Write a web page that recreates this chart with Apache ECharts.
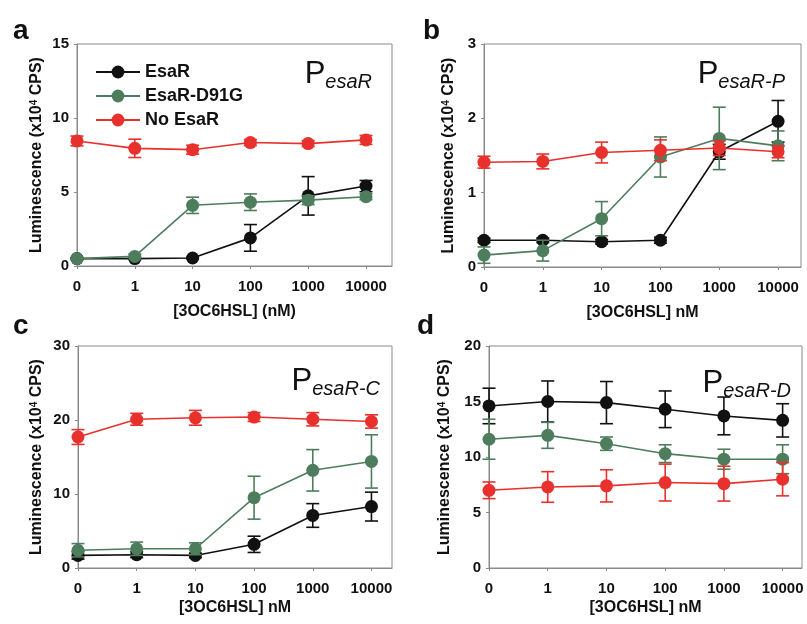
<!DOCTYPE html>
<html>
<head>
<meta charset="utf-8">
<script src="https://cdn.jsdelivr.net/npm/echarts@6/dist/echarts.min.js"></script>
<style>
  html, body { margin: 0; padding: 0; background: #fff; }
  #chart { width: 807px; height: 624px; }
</style>
</head>
<body>
<div id="chart"></div>
<script>
// dose categories (nM), plotted at evenly spaced positions 0..5
var doses = ['0', '1', '10', '100', '1000', '10000'];
var names = ['EsaR', 'EsaR-D91G', 'No EsaR'];
var colors = ['#111111', '#4d7d5c', '#e8302c'];

// panel a : PesaR
var aEsaR = [0.5, 0.5, 0.54, 1.9, 4.74, 5.4];
var aEsaRErr = [0.05, 0.05, 0.05, 0.9, 1.3, 0.38];
var aD91G = [0.5, 0.65, 4.1, 4.31, 4.45, 4.68];
var aD91GErr = [0.1, 0.15, 0.55, 0.56, 0.3, 0.2];
var aNo = [8.45, 7.95, 7.86, 8.34, 8.27, 8.52];
var aNoErr = [0.33, 0.62, 0.3, 0.2, 0.2, 0.3];

// panel b : PesaR-P
var bEsaR = [0.36, 0.36, 0.34, 0.36, 1.55, 1.96];
var bEsaRErr = [0.03, 0.03, 0.03, 0.04, 0.1, 0.28];
var bD91G = [0.16, 0.22, 0.65, 1.48, 1.73, 1.63];
var bD91GErr = [0.11, 0.14, 0.23, 0.27, 0.42, 0.2];
var bNo = [1.41, 1.42, 1.54, 1.57, 1.6, 1.55];
var bNoErr = [0.08, 0.1, 0.14, 0.14, 0.1, 0.08];

// panel c : PesaR-C
var cEsaR = [1.7, 1.8, 1.7, 3.2, 7.1, 8.3];
var cEsaRErr = [0.5, 0.4, 0.3, 1.1, 1.6, 1.95];
var cD91G = [2.4, 2.6, 2.6, 9.5, 13.2, 14.4];
var cD91GErr = [0.9, 0.9, 0.8, 2.9, 2.8, 3.6];
var cNo = [17.7, 20.1, 20.3, 20.4, 20.1, 19.8];
var cNoErr = [1.0, 0.8, 1.0, 0.6, 0.9, 0.9];

// panel d : PesaR-D
var dEsaR = [14.6, 15.0, 14.9, 14.3, 13.7, 13.3];
var dEsaRErr = [1.6, 1.85, 1.9, 1.65, 1.7, 1.5];
var dD91G = [11.6, 11.95, 11.2, 10.3, 9.8, 9.8];
var dD91GErr = [1.8, 1.17, 0.6, 0.8, 0.9, 1.3];
var dNo = [7.0, 7.3, 7.4, 7.7, 7.6, 8.0];
var dNoErr = [0.75, 1.38, 1.45, 1.66, 1.57, 1.5];

var FONT = 'Liberation Sans, Arial, sans-serif';

var panels = [
  {vals: [aEsaR, aD91G, aNo], errs: [aEsaRErr, aD91GErr, aNoErr], ymax: 15, step: 5,
   grid: {left: 77, top: 44, width: 315, height: 222}, xmax: 5.45,
   xname: '[3OC6HSL] (nM)', xgap: 38, ygap: 32,
   letter: 'a', lx: 13, ly: 17, sub: 'esaR', tx: 372, ty: 92},
  {vals: [bEsaR, bD91G, bNo], errs: [bEsaRErr, bD91GErr, bNoErr], ymax: 3, step: 1,
   grid: {left: 484, top: 44, width: 317, height: 223}, xmax: 5.39,
   xname: '[3OC6HSL] nM', xgap: 38, ygap: 27,
   letter: 'b', lx: 423, ly: 17, sub: 'esaR-P', tx: 785, ty: 92},
  {vals: [cEsaR, cD91G, cNo], errs: [cEsaRErr, cD91GErr, cNoErr], ymax: 30, step: 10,
   grid: {left: 78, top: 346, width: 314, height: 222}, xmax: 5.35,
   xname: '[3OC6HSL] nM', xgap: 32, ygap: 33,
   letter: 'c', lx: 13, ly: 312, sub: 'esaR-C', tx: 380, ty: 399},
  {vals: [dEsaR, dD91G, dNo], errs: [dEsaRErr, dD91GErr, dNoErr], ymax: 20, step: 5,
   grid: {left: 489, top: 346, width: 313, height: 222}, xmax: 5.33,
   xname: '[3OC6HSL] nM', xgap: 32, ygap: 36,
   letter: 'd', lx: 417, ly: 312, sub: 'esaR-D', tx: 791, ty: 401}
];

function errRender(params, api) {
  var x = api.value(0), v = api.value(1), e = api.value(2);
  var hi = api.coord([x, v + e]);
  var lo = api.coord([x, v - e]);
  var w = 6.5;
  var st = {stroke: api.visual('color'), lineWidth: 1.6};
  return {
    type: 'group',
    children: [
      {type: 'line', shape: {x1: hi[0], y1: hi[1], x2: lo[0], y2: lo[1]}, style: st},
      {type: 'line', shape: {x1: hi[0] - w, y1: hi[1], x2: hi[0] + w, y2: hi[1]}, style: st},
      {type: 'line', shape: {x1: lo[0] - w, y1: lo[1], x2: lo[0] + w, y2: lo[1]}, style: st}
    ]
  };
}

var axisGray = '#8a8a8a';
var grids = [], xAxes = [], yAxes = [], series = [], graphics = [];

panels.forEach(function (p, gi) {
  grids.push({left: p.grid.left, top: p.grid.top, width: p.grid.width, height: p.grid.height,
    show: true, borderColor: axisGray, borderWidth: 1, backgroundColor: 'transparent'});

  xAxes.push({
    type: 'value', gridIndex: gi, min: 0, max: p.xmax, interval: 1,
    name: p.xname, nameLocation: 'middle', nameGap: p.xgap,
    nameTextStyle: {fontSize: 16, fontWeight: 'bold', color: '#111', fontFamily: FONT},
    axisLine: {show: true, lineStyle: {color: axisGray, width: 1}},
    axisTick: {show: true, length: 3, lineStyle: {color: axisGray}, customValues: [0, 1, 2, 3, 4, 5]},
    axisLabel: {
      customValues: [0, 1, 2, 3, 4, 5],
      formatter: function (v) { return doses[Math.round(v)]; },
      fontSize: 15, fontWeight: 'bold', color: '#111', fontFamily: FONT, margin: 13
    },
    splitLine: {show: false}
  });

  yAxes.push({
    type: 'value', gridIndex: gi, min: 0, max: p.ymax, interval: p.step,
    name: '{n|Luminescence (x10}{s|4}{n| CPS)}', nameLocation: 'middle', nameGap: p.ygap,
    nameTextStyle: {
      rich: {
        n: {fontSize: 16, fontWeight: 'bold', color: '#111', fontFamily: FONT},
        s: {fontSize: 10, fontWeight: 'bold', color: '#111', fontFamily: FONT, verticalAlign: 'top'}
      }
    },
    axisLine: {show: true, lineStyle: {color: axisGray, width: 1}},
    axisTick: {show: true, length: 3, lineStyle: {color: axisGray}},
    axisLabel: {fontSize: 15, fontWeight: 'bold', color: '#111', fontFamily: FONT, margin: 8},
    splitLine: {show: false}
  });

  p.vals.forEach(function (vals, si) {
    series.push({
      name: names[si] + ' err', type: 'custom', xAxisIndex: gi, yAxisIndex: gi,
      renderItem: errRender, itemStyle: {color: colors[si]}, z: 2 + si * 2,
      data: vals.map(function (v, i) { return [i, v, p.errs[si][i]]; })
    });
    series.push({
      name: names[si], type: 'line', xAxisIndex: gi, yAxisIndex: gi,
      symbol: 'circle', symbolSize: 13,
      lineStyle: {color: colors[si], width: 1.6},
      itemStyle: {color: colors[si]}, z: 3 + si * 2,
      data: vals.map(function (v, i) { return [i, v]; })
    });
  });

  graphics.push({
    type: 'text', left: p.lx, top: p.ly,
    style: {text: p.letter, fontSize: 28, fontWeight: 'bold', fill: '#111', fontFamily: FONT}
  });
  graphics.push({
    type: 'text', x: p.tx, y: p.ty,
    style: {
      text: '{p|P}{s|' + p.sub + '}', align: 'right', verticalAlign: 'bottom',
      rich: {
        p: {fontSize: 31, lineHeight: 31, padding: [0, 0, 2, 0], verticalAlign: 'bottom', fill: '#111', fontFamily: FONT},
        s: {fontSize: 20, lineHeight: 20, fontStyle: 'italic', verticalAlign: 'bottom', fill: '#111', fontFamily: FONT}
      }
    }
  });
});

var chart = echarts.init(document.getElementById('chart'));
chart.setOption({
  animation: false,
  backgroundColor: '#fff',
  grid: grids,
  xAxis: xAxes,
  yAxis: yAxes,
  legend: {
    orient: 'vertical', left: 90, top: 58,
    itemWidth: 44, itemHeight: 16, itemGap: 6,
    data: names,
    textStyle: {fontSize: 18, fontWeight: 'bold', color: '#111', fontFamily: FONT}
  },
  graphic: graphics,
  series: series
});
</script>
</body>
</html>
